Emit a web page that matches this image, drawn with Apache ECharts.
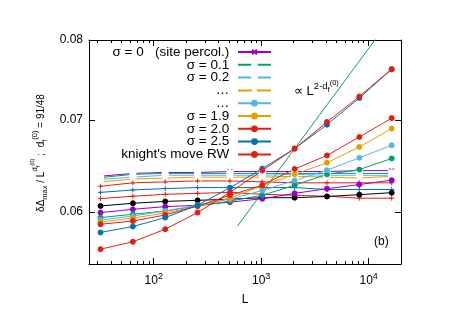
<!DOCTYPE html>
<html>
<head>
<meta charset="utf-8">
<script src="https://cdn.jsdelivr.net/npm/echarts@6/dist/echarts.min.js"></script>
<style>
html, body { margin: 0; padding: 0; background: #fff; }
#chart { width: 463px; height: 327px; }
</style>
</head>
<body>
<div id="chart"></div>
<script>
// system sizes L
const sizes = [32, 64, 128, 256, 512, 1024, 2048, 4096, 8192, 16384];

// flat group (small markers)
const sigma0Site = [0.0637, 0.0640, 0.0641, 0.0641, 0.0642, 0.0642, 0.0642, 0.0642, 0.0643, 0.0643];
const sigma01 = [0.06355, 0.0639, 0.0640, 0.0640, 0.0640, 0.0640, 0.0640, 0.0640, 0.0640, 0.0640];
const sigma02 = [0.06336, 0.0636, 0.0638, 0.0638, 0.0638, 0.0638, 0.0639, 0.0638, 0.0638, 0.0638];
const sigmaDotsA = [0.0631, 0.0634, 0.0635, 0.0636, 0.0636, 0.0636, 0.0637, 0.0636, 0.0635, 0.0637];
const redPlusA = [0.06264, 0.0630, 0.0631, 0.0632, 0.0632, 0.0631, 0.0630, 0.0630, 0.0630, 0.0630];
const bluePlus = [0.0620, 0.06225, 0.0624, 0.0625, 0.0625, 0.0625, 0.0625, 0.0623, 0.0623, 0.0623];
const redPlusB = [0.06136, 0.0616, 0.0618, 0.0619, 0.0620, 0.0618, 0.0617, 0.0616, 0.0614, 0.0614];

// rising group (filled circles)
const blackDots = [0.06061, 0.06088, 0.06107, 0.06118, 0.0613, 0.06145, 0.06145, 0.06158, 0.06176, 0.06197];
const purpleDots = [0.05994, 0.06027, 0.06054, 0.06068, 0.0610, 0.06134, 0.0619, 0.06238, 0.06282, 0.06328];
const greenDots = [0.05944, 0.05977, 0.0601, 0.0606, 0.0611, 0.0617, 0.06275, 0.0639, 0.06441, 0.06562];
const sigmaDotsB = [0.0592, 0.0596, 0.0601, 0.0607, 0.0613, 0.0622, 0.06325, 0.06434, 0.06569, 0.06708];
const sigma19 = [0.0590, 0.0594, 0.0599, 0.0606, 0.0614, 0.0627, 0.0639, 0.06515, 0.0669, 0.06898];
const sigma20 = [0.05878, 0.0591, 0.0597, 0.0606, 0.0617, 0.06275, 0.06448, 0.06595, 0.06802, 0.0702];
const sigma25 = [0.05798, 0.05856, 0.05944, 0.06068, 0.06248, 0.06452, 0.06671, 0.06944, 0.0726, 0.07619];
const knightRW = [0.05638, 0.05708, 0.0583, 0.05994, 0.0620, 0.06431, 0.06671, 0.06975, 0.07279, 0.07619];

// guide line  ∝ L^(2-df)
const guideL = [600, 12000];
const guideV = [0.05859, 0.0804];

// ticks
const xMajor = [100, 1000, 10000];
const xMinor = [30, 40, 50, 60, 70, 80, 90, 200, 300, 400, 500, 600, 700, 800, 900,
    2000, 3000, 4000, 5000, 6000, 7000, 8000, 9000];
const yMajor = [0.06, 0.07, 0.08];

const FONT = 'Liberation Sans, Arial, sans-serif';
const CROSS = 'path://M0,0L10,10M10,0L0,10';
const PLUS = 'path://M5,0L5,10M0,5L10,5';

function pts(ys) {
    return sizes.map((l, i) => [l, ys[i]]);
}

function mk(name, ys, color, symbol, size, opts) {
    const s = {
        name: name,
        type: 'line',
        data: pts(ys),
        color: color,
        symbol: symbol,
        symbolSize: size,
        showSymbol: true,
        animation: false,
        lineStyle: { color: color, width: 1 },
        itemStyle: { color: color, borderColor: color, borderWidth: 1 },
        z: 3
    };
    return Object.assign(s, opts || {});
}

function open(c) {
    return { itemStyle: { color: '#fff', borderColor: c, borderWidth: 1 } };
}

const seriesList = [
    mk('σ = 0   (site percol.)', sigma0Site, '#9400d3', CROSS, 5),
    mk('σ = 0.1', sigma01, '#009e73', 'emptyRect', 5, open('#009e73')),
    mk('σ = 0.2', sigma02, '#56b4e9', 'emptyCircle', 5, open('#56b4e9')),
    mk('…', sigmaDotsA, '#e69f00', 'emptyTriangle', 5, open('#e69f00')),
    mk('r1', redPlusA, '#e51e10', PLUS, 5),
    mk('b1', bluePlus, '#0072b2', PLUS, 5),
    mk('r2', redPlusB, '#e51e10', PLUS, 5),
    mk('k1', blackDots, '#000000', 'circle', 5),
    mk('p1', purpleDots, '#9400d3', 'circle', 5),
    mk('g1', greenDots, '#009e73', 'circle', 5),
    mk('… ', sigmaDotsB, '#56b4e9', 'circle', 5),
    mk('σ = 1.9', sigma19, '#e69f00', 'circle', 5),
    mk('σ = 2.0', sigma20, '#e51e10', 'circle', 5),
    mk('σ = 2.5', sigma25, '#0072b2', 'circle', 5),
    mk("knight's move RW", knightRW, '#e51e10', 'circle', 5),
    {
        name: 'guide',
        type: 'line',
        data: guideL.map((l, i) => [l, guideV[i]]),
        symbol: 'none',
        animation: false,
        clip: true,
        lineStyle: { color: '#009e73', width: 1 },
        z: 2
    }
];

const legendNames = ['σ = 0   (site percol.)', 'σ = 0.1', 'σ = 0.2', '…', '… ',
    'σ = 1.9', 'σ = 2.0', 'σ = 2.5', "knight's move RW"];

const axisCommonX = {
    type: 'log', logBase: 10, min: 25, max: 20000, gridIndex: 0,
    splitLine: { show: false }
};
const axisCommonY = {
    type: 'log', logBase: 10, min: 0.055, max: 0.08, gridIndex: 0,
    splitLine: { show: false }
};
const blackLine = { show: true, onZero: false, lineStyle: { color: '#000', width: 1 } };

const option = {
    backgroundColor: '#fff',
    animation: false,
    textStyle: { fontFamily: FONT },
    grid: { left: 89, top: 40, width: 312, height: 224, containLabel: false },
    legend: {
        data: legendNames.map(n => ({ name: n })),
        orient: 'vertical',
        right: 191,
        top: 45,
        padding: 0,
        align: 'right',
        itemGap: -1.2,
        itemWidth: 33,
        itemHeight: 6,
        selectedMode: false,
        formatter: n => n.trim() + ' ',
        textStyle: { fontSize: 13.5, lineHeight: 12.8, color: '#000', fontFamily: FONT }
    },
    xAxis: [
        Object.assign({}, axisCommonX, {
            position: 'bottom',
            axisLine: blackLine,
            axisTick: { show: true, inside: true, length: 6, customValues: xMajor, lineStyle: { color: '#000' } },
            axisLabel: {
                customValues: xMajor,
                margin: 8,
                color: '#000',
                formatter: v => '{b|10}{e|' + Math.round(Math.log10(v)) + '}',
                rich: {
                    b: { fontSize: 12, fontFamily: FONT, color: '#000', verticalAlign: 'bottom', padding: [0, 0, 0, 0] },
                    e: { fontSize: 9, fontFamily: FONT, color: '#000', verticalAlign: 'bottom', padding: [0, 0, 6, 0] }
                }
            },
            name: 'L',
            nameLocation: 'middle',
            nameGap: 30,
            nameTextStyle: { fontSize: 12, color: '#000', fontFamily: FONT }
        }),
        Object.assign({}, axisCommonX, {
            position: 'bottom',
            axisLine: { show: false },
            axisTick: { show: true, inside: true, length: 3, customValues: xMinor, lineStyle: { color: '#000' } },
            axisLabel: { show: false }
        }),
        Object.assign({}, axisCommonX, {
            position: 'top',
            axisLine: blackLine,
            axisTick: { show: true, inside: true, length: 6, customValues: xMajor, lineStyle: { color: '#000' } },
            axisLabel: { show: false }
        }),
        Object.assign({}, axisCommonX, {
            position: 'top',
            axisLine: { show: false },
            axisTick: { show: true, inside: true, length: 3, customValues: xMinor, lineStyle: { color: '#000' } },
            axisLabel: { show: false }
        })
    ],
    yAxis: [
        Object.assign({}, axisCommonY, {
            position: 'left',
            axisLine: blackLine,
            axisTick: { show: true, inside: true, length: 6, customValues: yMajor, lineStyle: { color: '#000' } },
            axisLabel: {
                customValues: yMajor,
                margin: 6,
                color: '#000',
                fontSize: 12,
                fontFamily: FONT,
                formatter: v => v.toFixed(2)
            }
        }),
        Object.assign({}, axisCommonY, {
            position: 'right',
            axisLine: blackLine,
            axisTick: { show: true, inside: true, length: 6, customValues: yMajor, lineStyle: { color: '#000' } },
            axisLabel: { show: false }
        })
    ],
    graphic: [
        {
            type: 'text',
            x: 39,
            y: 153,
            rotation: Math.PI / 2,
            style: {
                text: '{m|δΔ}{s|max}{m| / L}{p|d}{ps|f}{pp|(0)}{m| ;  d}{s|f}{p|(0)}{m| = 91/48}',
                align: 'center',
                verticalAlign: 'middle',
                fill: '#000',
                rich: {
                    m: { fontSize: 10, fontFamily: FONT, verticalAlign: 'bottom', padding: [0, 0, 3, 0] },
                    s: { fontSize: 7.5, fontFamily: FONT, verticalAlign: 'bottom', padding: [0, 0, 0, 0] },
                    p: { fontSize: 7.5, fontFamily: FONT, verticalAlign: 'bottom', padding: [0, 0, 10, 0] },
                    ps: { fontSize: 6, fontFamily: FONT, verticalAlign: 'bottom', padding: [0, 0, 8, 0] },
                    pp: { fontSize: 6, fontFamily: FONT, verticalAlign: 'bottom', padding: [0, 0, 14, 0] }
                }
            }
        },
        {
            type: 'text',
            x: 294,
            y: 88,
            style: {
                text: '{m|∝ L}{p|2-d}{ps|f}{pp|(0)}',
                align: 'left',
                verticalAlign: 'middle',
                fill: '#000',
                rich: {
                    m: { fontSize: 13, fontFamily: FONT, verticalAlign: 'bottom', padding: [0, 0, 0, 0] },
                    p: { fontSize: 9.5, fontFamily: FONT, verticalAlign: 'bottom', padding: [0, 0, 6, 0] },
                    ps: { fontSize: 7.5, fontFamily: FONT, verticalAlign: 'bottom', padding: [0, 0, 4, 0] },
                    pp: { fontSize: 7.5, fontFamily: FONT, verticalAlign: 'bottom', padding: [0, 0, 11, 0] }
                }
            }
        },
        {
            type: 'text',
            x: 374,
            y: 236,
            style: { text: '(b)', fontSize: 12, fontFamily: FONT, fill: '#000' }
        }
    ],
    series: seriesList
};

const chart = echarts.init(document.getElementById('chart'), null, { renderer: 'canvas' });
chart.setOption(option);
</script>
</body>
</html>
